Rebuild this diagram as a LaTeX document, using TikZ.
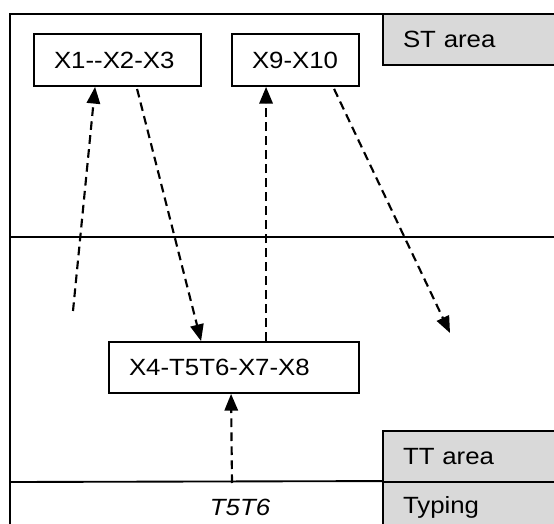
\documentclass[tikz,border=0pt]{standalone}
\usepackage{fontspec}
\setmainfont{Liberation Sans}[FakeStretch=1.1]
\usetikzlibrary{arrows.meta}
\definecolor{areagray}{HTML}{D9D9D9}
\tikzset{
  box/.style={draw, line width=1.4pt, inner xsep=15pt, inner ysep=0pt, align=left, anchor=center},
  areabox/.style={box, fill=areagray, minimum width=132.75pt, text width=102.75pt, minimum height=38.25pt},
  frameline/.style={line width=1.4pt},
  flow/.style={line width=1.6pt, dash pattern=on 6.5pt off 4pt, -{Triangle[length=12.5pt,width=10pt]}}
}
\begin{document}
\begin{tikzpicture}[x=0.75pt,y=-0.75pt,every node/.style={font=\fontsize{17.6}{20}\selectfont}]
\useasboundingbox (0,0) rectangle (554,524);
\clip (0,0) rectangle (554,524);
\fill[white] (0,0) rectangle (554,524);
% frame
\coordinate (fbl) at (10,540);
\coordinate (ftl) at (10,14);
\coordinate (ftr) at (570,14);
\coordinate (m1l) at (10,237);
\coordinate (m1r) at (570,237);
\coordinate (m2l) at (10,482);
\draw[frameline] (fbl) -- (ftl) -- (ftr);
\draw[frameline] (m1l) -- (m1r);
% area labels
\node[areabox] (st) at (471.5,39.5) {ST area};
\node[areabox] (tt) at (471.5,456.5) {TT area};
\node[areabox] (ty) at (471.5,507.5) {Typing};
\draw[frameline] (m2l) -- (ty.north west);
% boxes
\node[box, minimum width=125.25pt, text width=95.25pt, minimum height=39pt] (x1) at (117.5,60) {X1-{}-X2-X3};
\node[box, minimum width=95.25pt, text width=65.25pt, minimum height=39pt] (x9) at (295.5,60) {X9-X10};
\node[box, minimum width=187.5pt, text width=157.5pt, minimum height=38.25pt] (x4) at (234,367.5) {X4-T5T6-X7-X8};
\node[font=\fontsize{17.6}{20}\selectfont\itshape] (t56) at (240,507.5) {T5T6};
% arrows
\coordinate (a1s) at (73,311);
\coordinate (a4e) at (450,333);
\coordinate (a5s) at (232,483);
\draw[flow] (a1s) -- ([xshift=46.5pt]x1.south west);
\draw[flow] ([xshift=78pt,yshift=-1.5pt]x1.south west) -- ([xshift=69.75pt]x4.north west);
\draw[flow] ([xshift=118.5pt]x4.north west) -- ([xshift=26.25pt]x9.south west);
\draw[flow] ([xshift=77.25pt,yshift=-1.5pt]x9.south west) -- (a4e);
\draw[flow] (a5s) -- ([xshift=92.25pt]x4.south west);
\end{tikzpicture}
\end{document}
